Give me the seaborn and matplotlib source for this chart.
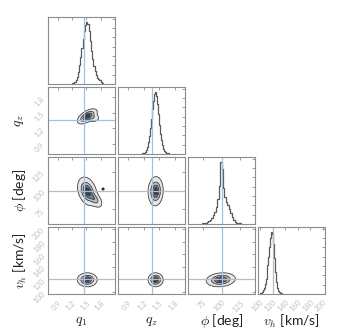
import numpy as np
import pandas as pd
import matplotlib
matplotlib.use("Agg")
import matplotlib.pyplot as plt
from matplotlib.ticker import MaxNLocator
import seaborn as sns

# ---- parameters -----------------------------------------------------------
labels = [r"$q_1$", r"$q_z$", r"$\phi$ [deg]", r"$v_h$ [km/s]"]
limits = [(0.7, 2.1), (0.7, 2.0), (55, 145), (97, 203)]
ticks = [[0.9, 1.2, 1.5, 1.8], [0.9, 1.2, 1.5, 1.8], [75, 100, 125],
         [100, 120, 140, 160, 180, 200]]
truths = [1.45, 1.36, 100, 121]

# ---- 1D marginal histograms (bin edges + counts) --------------------------
q1_edges = np.arange(1.2, 1.85 + 1e-9, 0.025)
q1_counts = [1, 2, 3, 6, 12, 20, 31, 44, 58, 73, 85, 95, 100, 97, 85,
             70, 54, 40, 29, 21, 14, 10, 8, 6, 3, 1]

qz_edges = np.arange(1.16, 1.68 + 1e-9, 0.02)
qz_counts = [1, 1, 2, 4, 7, 12, 19, 29, 42, 57, 72, 86, 97, 100, 94,
             80, 64, 47, 33, 22, 14, 8, 5, 3, 2, 1]

phi_edges = np.arange(74, 126 + 1e-9, 2)
phi_counts = [1, 1, 2, 3, 5, 7, 10, 14, 20, 28, 40, 62, 100, 88, 58,
              44, 36, 30, 24, 17, 11, 7, 4, 2, 1, 1]

vh_edges = np.arange(100, 136 + 1e-9, 1.5)
vh_counts = [1, 2, 3, 6, 10, 16, 24, 34, 46, 60, 75, 90, 100, 96, 80,
             58, 36, 20, 10, 5, 3, 2, 1, 0]

hist_edges = [q1_edges, qz_edges, phi_edges, vh_edges]
hist_counts = [q1_counts, qz_counts, phi_counts, vh_counts]

# ---- 2D posterior summaries -------------------------------------------------
post_mean = [1.52, 1.43, 99.0, 119.5]
post_sigma = [0.085, 0.06, 8.0, 4.5]
pairs = [(0, 1), (0, 2), (0, 3), (1, 2), (1, 3), (2, 3)]
pair_rho = [0.6, -0.3, 0.0, 0.05, 0.0, 0.15]
# secondary lobes: (i, j, weight, mean_i, mean_j, sigma_i, sigma_j, rho)
lobes = [(0, 2, 0.18, 1.68, 88.0, 0.07, 5.0, -0.5),
         (0, 1, 0.12, 1.65, 1.40, 0.06, 0.04, 0.0)]
outlier_q1 = [1.85]
outlier_phi = [102]

mass_levels = [0.95, 0.7, 0.4, 0.15]
fill_colors = ["#e6e6e6", "#b8babc", "#707d8b", "#2d3f56"]

# ---- styling ---------------------------------------------------------------
sns.set_theme(style="white")
plt.rcParams["mathtext.fontset"] = "cm"
plt.rcParams["font.family"] = ["Lato", "DejaVu Sans"]

line_col = "#a9bfd6"
spine_col = "#8c8c8c"
tick_lab_col = "#c2c2c2"
hist_col = "#5a5a5a"


def gauss2d(X, Y, mx, my, sx, sy, rho):
    zx = (X - mx) / sx
    zy = (Y - my) / sy
    q = (zx ** 2 - 2 * rho * zx * zy + zy ** 2) / (1 - rho ** 2)
    return np.exp(-0.5 * q) / (2 * np.pi * sx * sy * np.sqrt(1 - rho ** 2))


def mass_thresholds(Z, masses):
    flat = np.sort(Z.ravel())[::-1]
    cum = np.cumsum(flat)
    cum /= cum[-1]
    return [flat[np.searchsorted(cum, m)] for m in masses]


W, H = 338, 333
fig = plt.figure(figsize=(W / 100, H / 100), dpi=100)
col_left = [48, 118, 188, 258]
row_top = [17, 87, 157, 227]
size = 67


def make_ax(r, c):
    return fig.add_axes([col_left[c] / W, 1 - (row_top[r] + size) / H,
                         size / W, size / H])


def style_ax(ax, r, c, diag):
    for s in ax.spines.values():
        s.set_color(spine_col)
        s.set_linewidth(0.8)
    ax.tick_params(direction="in", length=2.5, width=0.6, colors=spine_col,
                   top=True, right=True, labelsize=5.5,
                   labelcolor=tick_lab_col,
                   labelbottom=(r == 3), labelleft=(c == 0 and not diag))
    ax.set_xlabel("")
    ax.set_ylabel("")
    if r == 3:
        for t in ax.get_xticklabels():
            t.set_rotation(45)
            t.set_ha("right")
            t.set_rotation_mode("anchor")
    if c == 0 and not diag:
        for t in ax.get_yticklabels():
            t.set_rotation(45)
            t.set_ha("right")
            t.set_rotation_mode("anchor")


for r in range(4):
    for c in range(r + 1):
        ax = make_ax(r, c)
        ax.set_facecolor("white")
        if r == c:
            edges = hist_edges[c]
            counts = np.asarray(hist_counts[c], float)
            centers = 0.5 * (edges[:-1] + edges[1:])
            df = pd.DataFrame({"value": centers, "count": counts})
            sns.histplot(data=df, x="value", weights="count",
                         bins=list(edges), element="step", fill=False,
                         color=hist_col, linewidth=0.9, ax=ax)
            ax.set_ylim(0, counts.max() * 1.08)
            ax.yaxis.set_major_locator(MaxNLocator(8))
            ax.axvline(truths[c], color=line_col, lw=0.9)
        else:
            k = pairs.index((c, r))
            xs = np.linspace(*limits[c], 220)
            ys = np.linspace(*limits[r], 220)
            X, Y = np.meshgrid(xs, ys)
            Z = gauss2d(X, Y, post_mean[c], post_mean[r], post_sigma[c],
                        post_sigma[r], pair_rho[k])
            for (i, j, w, mi, mj, si, sj, rh) in lobes:
                if (i, j) == (c, r):
                    Z = (1 - w) * Z + w * gauss2d(X, Y, mi, mj, si, sj, rh)
            th = mass_thresholds(Z, mass_levels)
            lv = th + [Z.max() * 1.01]
            ax.contourf(X, Y, Z, levels=lv, colors=fill_colors)
            ax.contour(X, Y, Z, levels=th, colors="#454545", linewidths=0.6)
            ax.axvline(truths[c], color=line_col, lw=0.9)
            ax.axhline(truths[r], color=line_col, lw=0.9)
            if (c, r) == (0, 2):
                sns.scatterplot(x=outlier_q1, y=outlier_phi, s=5,
                                color="#333333", edgecolor="none", ax=ax)
            ax.set_ylim(*limits[r])
            ax.set_yticks(ticks[r])
        ax.set_xlim(*limits[c])
        ax.set_xticks(ticks[c])
        style_ax(ax, r, c, r == c)

# axis titles
for c in range(4):
    fig.text((col_left[c] + size / 2) / W, 1 - 321 / H, labels[c],
             ha="center", va="center", fontsize=10, color="#222222")
for r in range(1, 4):
    fig.text(20 / W, 1 - (row_top[r] + size / 2) / H, labels[r],
             ha="center", va="center", rotation=90, fontsize=10,
             color="#222222")

fig.savefig("out.png", dpi=100, facecolor="white")
